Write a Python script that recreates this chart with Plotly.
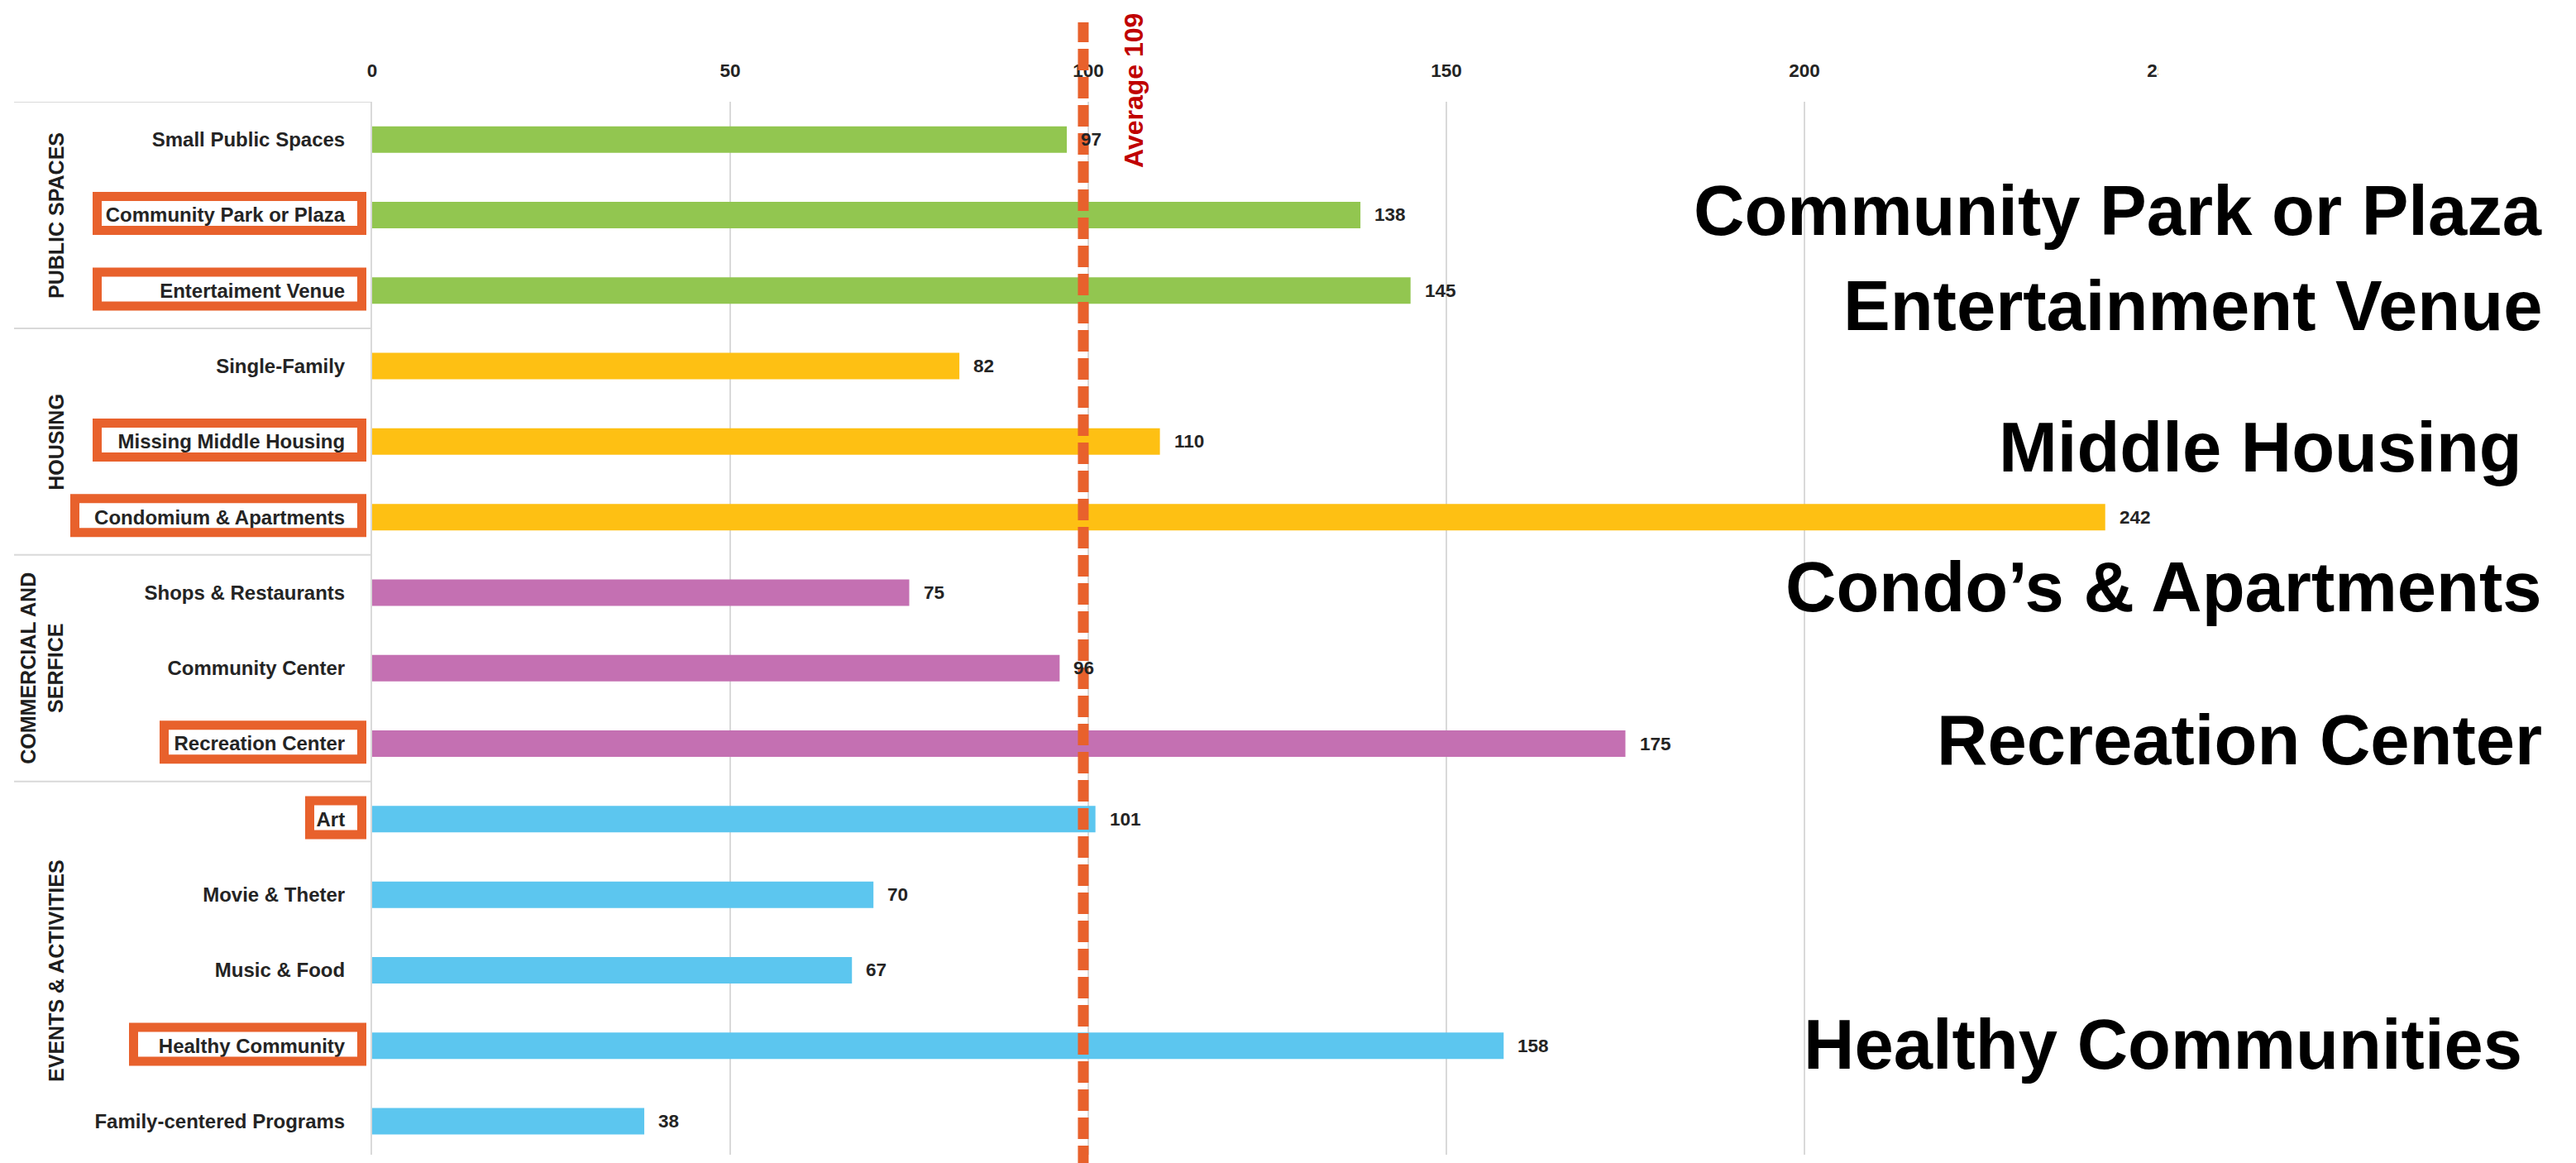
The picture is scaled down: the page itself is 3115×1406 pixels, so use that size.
import plotly.graph_objects as go

# ---------------- data ----------------
categories = [
    "Small Public Spaces", "Community Park or Plaza", "Entertaiment Venue",
    "Single-Family", "Missing Middle Housing", "Condomium & Apartments",
    "Shops & Restaurants", "Community Center", "Recreation Center",
    "Art", "Movie & Theter", "Music & Food", "Healthy Community",
    "Family-centered Programs",
]
values = [97, 138, 145, 82, 110, 242, 75, 96, 175, 101, 70, 67, 158, 38]
groups = ["PUBLIC SPACES"] * 3 + ["HOUSING"] * 3 + ["COMMERCIAL AND<br>SERFICE"] * 3 + ["EVENTS & ACTIVITIES"] * 5
group_names = ["PUBLIC SPACES", "HOUSING", "COMMERCIAL AND<br>SERFICE", "EVENTS & ACTIVITIES"]
highlighted = ["Community Park or Plaza", "Entertaiment Venue", "Missing Middle Housing",
               "Condomium & Apartments", "Recreation Center", "Art", "Healthy Community"]
x_ticks = [0, 50, 100, 150, 200, 250, 300]
average_label = "Average 109"
average_line_x = 99.3
callout_texts = ["Community Park or Plaza", "Entertainment Venue", "Middle Housing",
                 "Condo’s & Apartments", "Recreation Center", "Healthy Communities"]

# ---------------- style / layout constants ----------------
W, H = 3115, 1406
L, T, PB = 450, 123, 1396          # plot-area left, top, bottom (px)
ROW_PX = 91.3
PX_PER_UNIT = 8.66
group_colors = {
    "PUBLIC SPACES": "#92C650",
    "HOUSING": "#FEC013",
    "COMMERCIAL AND<br>SERFICE": "#C470B2",
    "EVENTS & ACTIVITIES": "#5CC6EF",
}
ORANGE = "#E8612C"
GRID = "#D9D9D9"
TXT = "#242424"
FONT = "Liberation Sans, Arial, sans-serif"

box_left_px = {
    "Community Park or Plaza": 112, "Entertaiment Venue": 112, "Missing Middle Housing": 112,
    "Condomium & Apartments": 85, "Recreation Center": 193, "Art": 369, "Healthy Community": 156,
}
callout_right_px = [3076, 3076, 3052, 3076, 3076, 3052]
callout_center_py = [254, 369, 540, 709, 894, 1262]
group_label_x_px = {"PUBLIC SPACES": 68, "HOUSING": 68, "COMMERCIAL AND<br>SERFICE": 51,
                    "EVENTS & ACTIVITIES": 68}


def xp(px):
    return (px - L) / (W - L)


def yp(py):
    return (PB - py) / (PB - T)


n = len(categories)
x_max = (W - L) / PX_PER_UNIT
y_range = [-0.5 + (PB - T) / ROW_PX, -0.5]

fig = go.Figure()
fig.add_trace(go.Bar(
    y=categories, x=values, orientation="h",
    marker=dict(color=[group_colors[g] for g in groups], line=dict(width=0)),
    width=0.35, hoverinfo="skip",
))

annotations = []
# value labels
for c, v in zip(categories, values):
    annotations.append(dict(x=v, y=c, xref="x", yref="y", text=str(v), showarrow=False,
                            xanchor="left", yanchor="middle", xshift=15,
                            font=dict(family=FONT, size=22.5, color=TXT, weight="bold")))

# group labels
for g in group_names:
    idx = [i for i, gg in enumerate(groups) if gg == g]
    center = (idx[0] + idx[-1]) / 2.0
    annotations.append(dict(x=xp(group_label_x_px[g]), y=center, xref="paper", yref="y",
                            text="<b>" + g + "</b>", showarrow=False, textangle=-90,
                            xanchor="center", yanchor="middle", align="center",
                            font=dict(family=FONT, size=25, color="#1E1E1E")))

# average label
annotations.append(dict(x=xp(1371), y=yp(110), xref="paper", yref="paper", text=average_label,
                        showarrow=False, textangle=-90, xanchor="center", yanchor="middle",
                        font=dict(family=FONT, size=32, color="#C00000", weight="bold")))

# callouts
for t, rx, cy in zip(callout_texts, callout_right_px, callout_center_py):
    annotations.append(dict(x=xp(rx), y=yp(cy), xref="paper", yref="paper", text=t,
                            showarrow=False, xanchor="right", yanchor="middle",
                            font=dict(family=FONT, size=85, color="black", weight="bold")))

shapes = []
# white cover on the right side of the chart
shapes.append(dict(type="rect", xref="paper", yref="paper", x0=xp(2610), x1=1.02,
                   y0=-0.05, y1=yp(0), fillcolor="white", line=dict(width=0), layer="above"))
# group separators
bounds = [-0.5] + [i + 0.5 for i in range(n - 1) if groups[i] != groups[i + 1]]
for b in bounds:
    shapes.append(dict(type="line", xref="paper", yref="y", x0=xp(17), x1=0, y0=b, y1=b,
                       line=dict(color=GRID, width=2), layer="above"))
# orange highlight boxes
half = 20.5 / ROW_PX
for c in highlighted:
    i = categories.index(c)
    shapes.append(dict(type="rect", xref="paper", yref="y",
                       x0=xp(box_left_px[c] + 5.5), x1=xp(437.5),
                       y0=i - half - 0.02, y1=i + half - 0.02,
                       line=dict(color=ORANGE, width=11), fillcolor="rgba(0,0,0,0)", layer="above"))
# dashed average line
shapes.append(dict(type="line", xref="x", yref="paper", x0=average_line_x, x1=average_line_x,
                   y0=yp(H + 5), y1=yp(27), line=dict(color=ORANGE, width=13, dash="26px,8px"),
                   layer="above"))

fig.update_layout(
    width=W, height=H, autosize=False,
    margin=dict(l=L, r=0, t=T, b=H - PB, pad=0),
    paper_bgcolor="white", plot_bgcolor="white",
    showlegend=False, bargap=0.65,
    font=dict(family=FONT, color=TXT),
    annotations=annotations, shapes=shapes,
    xaxis=dict(side="top", range=[0, x_max], tickmode="array", tickvals=x_ticks,
               ticktext=[str(t) for t in x_ticks],
               showgrid=True, gridcolor=GRID, gridwidth=2, zeroline=False, showline=False,
               ticks="", ticklabelstandoff=25,
               tickfont=dict(family=FONT, size=22.5, color=TXT, weight="bold")),
    yaxis=dict(type="category", categoryorder="array", categoryarray=categories,
               range=y_range, showgrid=False, zeroline=False,
               showline=True, linecolor=GRID, linewidth=2,
               ticks="", ticklabelstandoff=26,
               tickfont=dict(family=FONT, size=24, color=TXT, weight="bold")),
)

fig.write_html("out.html")
